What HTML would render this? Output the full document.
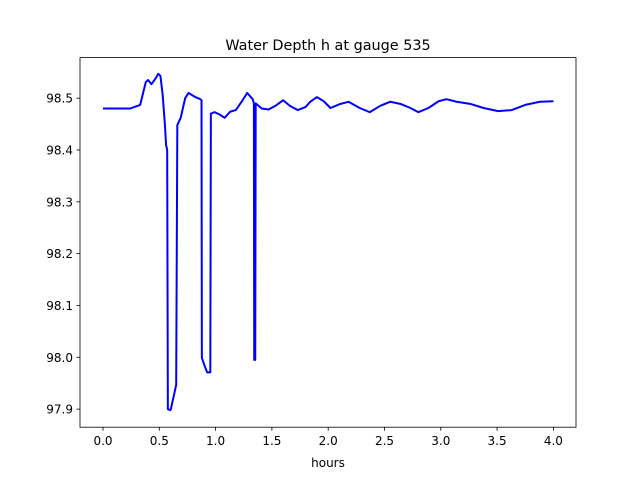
<!DOCTYPE html>
<html><head><meta charset="utf-8"><style>
body{margin:0;background:#fff}
svg text{font-family:"DejaVu Sans","Liberation Sans",sans-serif;fill:#000}
</style></head><body>
<svg id="chart" width="640" height="480" xmlns="http://www.w3.org/2000/svg">
<rect width="640" height="480" fill="#fff"/>
<text x="328" y="50" font-size="14.4" text-anchor="middle">Water Depth h at gauge 535</text>
<g id="ticks"></g>
<path id="line" fill="none" stroke="#0000ff" stroke-width="2" stroke-linejoin="round"/>
<rect x="80" y="57.6" width="496" height="369.6" fill="none" stroke="#000" stroke-width="0.8"/>
<text x="328" y="467" font-size="12" text-anchor="middle">hours</text>
</svg>
<script>
const xTicks=[0,0.5,1,1.5,2,2.5,3,3.5,4];
const xTickLabels=["0.0","0.5","1.0","1.5","2.0","2.5","3.0","3.5","4.0"];
const yTicks=[97.9,98.0,98.1,98.2,98.3,98.4,98.5];
const yTickLabels=["97.9","98.0","98.1","98.2","98.3","98.4","98.5"];
const times=[0,0.24,0.33,0.38,0.40,0.43,0.47,0.49,0.51,0.53,0.55,0.56,0.57,0.576,0.60,0.625,0.65,0.66,0.69,0.73,0.76,0.79,0.82,0.865,0.875,0.878,0.90,0.925,0.953,0.958,0.99,1.04,1.08,1.13,1.18,1.24,1.28,1.33,1.34,1.343,1.352,1.356,1.41,1.47,1.53,1.60,1.66,1.73,1.80,1.84,1.90,1.96,2.02,2.11,2.18,2.28,2.37,2.46,2.55,2.64,2.73,2.80,2.89,2.98,3.05,3.14,3.26,3.38,3.51,3.63,3.75,3.88,4.0];
const depth=[98.48,98.48,98.487,98.531,98.535,98.527,98.539,98.547,98.543,98.506,98.448,98.41,98.40,97.9,97.898,97.922,97.947,98.448,98.462,98.50,98.51,98.506,98.502,98.498,98.496,97.999,97.985,97.971,97.971,98.47,98.473,98.468,98.462,98.474,98.477,98.496,98.51,98.498,98.49,97.995,97.995,98.49,98.48,98.478,98.485,98.496,98.485,98.477,98.483,98.493,98.502,98.494,98.481,98.489,98.493,98.481,98.473,98.485,98.493,98.489,98.481,98.473,98.481,98.494,98.498,98.493,98.489,98.481,98.475,98.477,98.487,98.493,98.494];
const X=t=>103+t*112.6;
const Y=h=>357.3-(h-98.0)*518.3;
const NS="http://www.w3.org/2000/svg";
const g=document.getElementById('ticks');
function mk(tag,a){const e=document.createElementNS(NS,tag);for(const k in a)e.setAttribute(k,a[k]);g.appendChild(e);return e;}
xTicks.forEach((v,i)=>{
 const l=mk('line',{x1:X(v),x2:X(v),y1:427.2,y2:430.7,stroke:'#000','stroke-width':0.8});
 
 
 const t=mk('text',{x:X(v),y:445,'font-size':12,'text-anchor':'middle'});t.textContent=xTickLabels[i];
 
 
});
yTicks.forEach((v,i)=>{
 const l=mk('line',{x1:76.5,x2:80,y1:Y(v),y2:Y(v),stroke:'#000','stroke-width':0.8});
 
 
 const t=mk('text',{x:73,y:Y(v)+4.5,'font-size':12,'text-anchor':'end'});t.textContent=yTickLabels[i];
 
 
});
document.getElementById('line').setAttribute('d',times.map((t,i)=>(i?'L':'M')+X(t).toFixed(2)+','+Y(depth[i]).toFixed(2)).join(''));
</script>
</body></html>
